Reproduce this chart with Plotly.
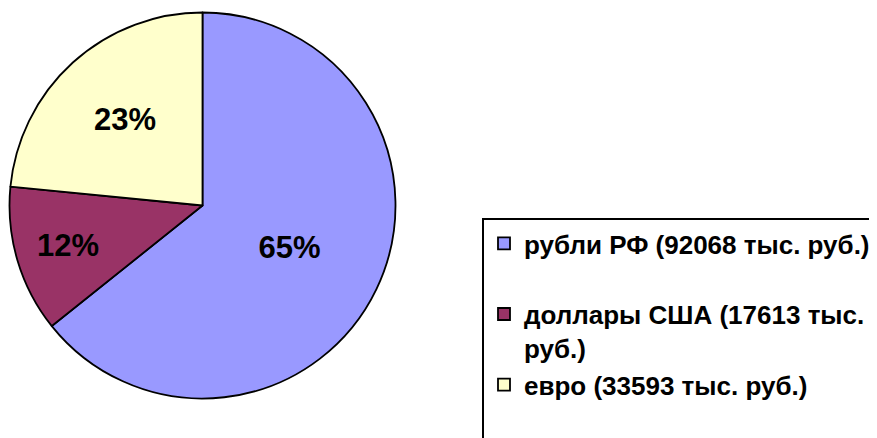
import plotly.graph_objects as go

categories = ["рубли РФ (92068 тыс. руб.)<br> ", "доллары США (17613 тыс.<br>руб.)", "евро (33593 тыс. руб.)<br> "]
values = [92068, 17613, 33593]
pct_labels = ["65%", "12%", "23%"]
colors = ["#9999FF", "#993366", "#FFFFCC"]

W, H = 877, 438
cx, cy, r = 194.5, 197.5, 193
fig = go.Figure(go.Pie(
    labels=categories,
    values=values,
    text=pct_labels,
    textinfo="text",
    textposition="inside",
    insidetextorientation="horizontal",
    sort=False,
    direction="clockwise",
    rotation=0,
    marker=dict(colors=colors, line=dict(color="black", width=1.8)),
    textfont=dict(family="Liberation Sans, Arial", size=31, color="black", weight="bold"),
    domain=dict(x=[(cx - r) / W, (cx + r) / W], y=[1 - (cy + r) / H, 1 - (cy - r) / H]),
    hoverinfo="label+percent",
))

fig.update_layout(
    width=W, height=H,
    margin=dict(l=0, r=0, t=0, b=0, autoexpand=False),
    paper_bgcolor="white",
    plot_bgcolor="white",
    showlegend=True,
    legend=dict(
        x=474 / W, y=1 - 210 / H, xanchor="left", yanchor="top",
        bordercolor="black", borderwidth=2,
        font=dict(family="Liberation Sans, Arial", size=26, color="black", weight="bold"),
        bgcolor="white",
        valign="top",
        itemwidth=30,
    ),
)

fig.write_html("out.html")
